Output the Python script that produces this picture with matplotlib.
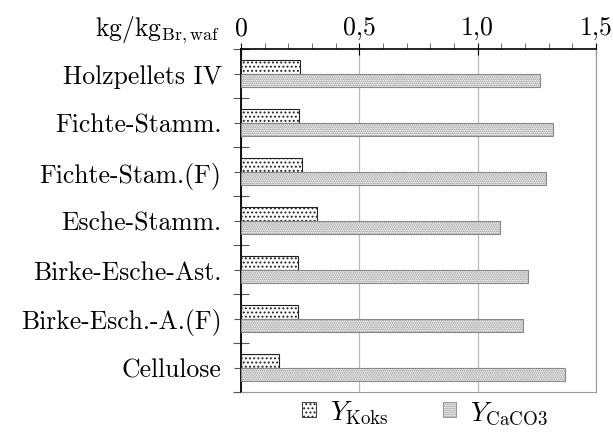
import numpy as np
import matplotlib.pyplot as plt
from matplotlib.patches import Patch
from matplotlib.ticker import MultipleLocator, FixedLocator

plt.rcParams['font.family'] = 'serif'
plt.rcParams['font.serif'] = ['cmr10']
plt.rcParams['mathtext.fontset'] = 'cm'
plt.rcParams['axes.formatter.use_mathtext'] = True
plt.rcParams['hatch.linewidth'] = 0.9

categories = ["Holzpellets IV", "Fichte-Stamm.", "Fichte-Stam.(F)", "Esche-Stamm.",
              "Birke-Esche-Ast.", "Birke-Esch.-A.(F)", "Cellulose"]
y_koks = [0.25, 0.245, 0.257, 0.32, 0.24, 0.24, 0.16]
y_caco3 = [1.263, 1.318, 1.289, 1.094, 1.212, 1.19, 1.369]
xtick_vals = [0, 0.5, 1.0, 1.5]
xtick_labels = ["0", "0,5", "1,0", "1,5"]

fs = 18.5
fig = plt.figure(figsize=(6.13, 4.35), dpi=100)
ax = fig.add_axes([241 / 613, 1 - 393 / 435, (596 - 241) / 613, (393 - 50) / 435])

n = len(categories)
pos = np.arange(n)
h = 0.28
koks_style = dict(facecolor='white', edgecolor='#222222', hatch='....')
caco3_style = dict(facecolor='white', edgecolor='#888888', hatch='........')
ax.barh(pos - h / 2, y_koks, height=h, linewidth=0.8, zorder=3, **koks_style)
ax.barh(pos + h / 2, y_caco3, height=h, linewidth=0.8, zorder=3, **caco3_style)

ax.set_xlim(0, 1.5)
ax.set_ylim(n - 0.5, -0.5)
ax.xaxis.tick_top()
ax.xaxis.set_major_locator(FixedLocator(xtick_vals))
ax.set_xticklabels(xtick_labels, fontsize=fs)
ax.xaxis.set_minor_locator(MultipleLocator(0.1))
ax.tick_params(axis='x', which='major', direction='inout', length=8, width=0.8, pad=3)
ax.tick_params(axis='x', which='minor', direction='out', length=4, width=0.6, color='#555555')
ax.grid(axis='x', which='major', color='#bbbbbb', linewidth=0.9, zorder=0)

ax.set_yticks(pos)
ax.set_yticklabels(categories, fontsize=fs)
ax.set_yticks(np.arange(n + 1) - 0.5, minor=True)
ax.tick_params(axis='y', which='major', direction='out', length=5, width=0.8,
               color='#555555', pad=9)
ax.tick_params(axis='y', which='minor', direction='inout', length=12, width=0.8, color='#555555')

ax.spines['left'].set_linewidth(1.3)
ax.spines['left'].set_color('black')
ax.spines['top'].set_linewidth(1.2)
ax.spines['top'].set_color('black')
ax.spines['right'].set_color('#999999')
ax.spines['bottom'].set_color('#999999')

fig.text(220 / 613, 1 - 30 / 435, r'kg/kg$_{\mathrm{Br,waf}}$', fontsize=fs,
         ha='right', va='center')

handles = [Patch(linewidth=0.6, **koks_style), Patch(linewidth=0.6, **caco3_style)]
fig.legend(handles, [r'$Y_{\mathrm{Koks}}$', r'$Y_{\mathrm{CaCO3}}$'], loc='center',
           bbox_to_anchor=(425 / 613, 1 - 413 / 435), ncol=2, frameon=False,
           fontsize=fs + 1, handlelength=0.5, handleheight=0.5, columnspacing=2.0,
           handletextpad=0.5)

fig.savefig('out.png', dpi=100)
